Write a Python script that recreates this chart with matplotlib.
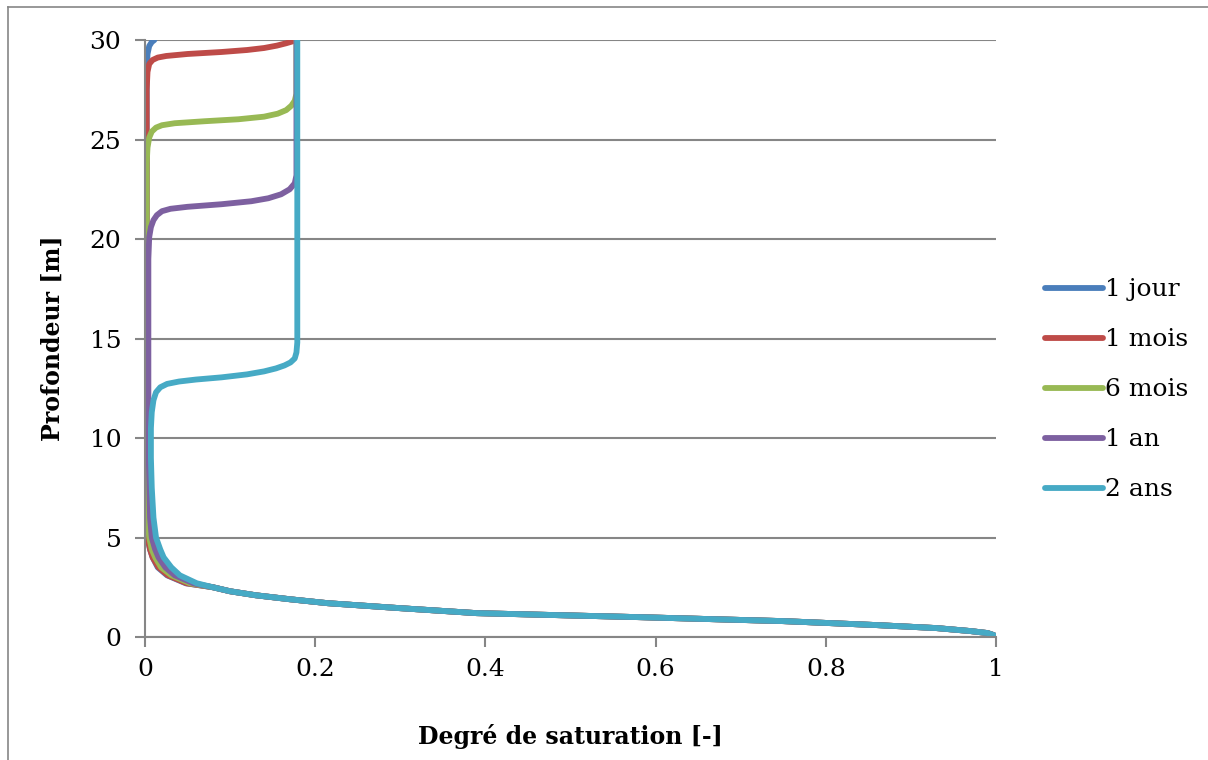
import matplotlib
matplotlib.use("Agg")
import matplotlib.pyplot as plt
from matplotlib.lines import Line2D
from matplotlib.ticker import FuncFormatter

# profils : (profondeur [m], degre de saturation [-])
depth_common = [0.0, 0.05, 0.1, 0.2, 0.3, 0.45, 0.6, 0.8, 1.0, 1.2, 1.45, 1.7, 1.9, 2.1, 2.3, 2.5]
sat_common = [1.0, 0.999, 0.997, 0.99, 0.97, 0.93, 0.86, 0.75, 0.58, 0.39, 0.30, 0.215, 0.17,
              0.13, 0.10, 0.08]

depth_jour = [2.7, 3.1, 3.5, 4.0, 4.4, 5, 6, 8, 20, 28, 29.3, 29.7, 29.9, 30]
sat_jour = [0.048, 0.026, 0.015, 0.009, 0.006, 0.003, 0.002, 0.002, 0.002, 0.002, 0.003,
            0.005, 0.008, 0.011]

depth_1mois = [2.7, 3.1, 3.5, 4.0, 4.4, 5, 6, 8, 20, 27.5, 28.4, 28.8, 29.0, 29.12, 29.2,
               29.3, 29.4, 29.5, 29.6, 29.72, 29.84, 29.94, 30]
sat_1mois = [0.049, 0.027, 0.016, 0.009, 0.006, 0.003, 0.002, 0.002, 0.002, 0.002, 0.003,
             0.005, 0.009, 0.015, 0.025, 0.05, 0.09, 0.12, 0.14, 0.155, 0.166, 0.174, 0.178]

depth_6mois = [2.7, 3.1, 3.5, 4.0, 4.4, 5, 6, 8, 20, 23.8, 24.6, 25.1, 25.4, 25.6, 25.72,
               25.82, 25.92, 26.02, 26.15, 26.3, 26.48, 26.7, 26.95, 27.3, 30]
sat_6mois = [0.053, 0.031, 0.019, 0.012, 0.008, 0.005, 0.003, 0.002, 0.002, 0.002, 0.003,
             0.005, 0.008, 0.013, 0.02, 0.035, 0.07, 0.11, 0.14, 0.156, 0.166, 0.172,
             0.176, 0.178, 0.178]

depth_1an = [2.7, 3.1, 3.5, 4.0, 4.4, 5, 6, 8, 10, 15, 19, 20.1, 20.6, 20.95, 21.2, 21.4,
             21.52, 21.62, 21.75, 21.9, 22.05, 22.25, 22.5, 22.8, 23.2, 30]
sat_1an = [0.057, 0.035, 0.024, 0.016, 0.012, 0.008, 0.006, 0.005, 0.004, 0.004, 0.004,
           0.005, 0.007, 0.01, 0.014, 0.02, 0.03, 0.05, 0.09, 0.125, 0.145, 0.16, 0.17,
           0.176, 0.178, 0.178]

depth_2ans = [2.7, 3.1, 3.5, 4.0, 4.4, 5, 6, 7.5, 9, 10.5, 11.3, 11.9, 12.3, 12.55, 12.72,
              12.84, 12.94, 13.05, 13.2, 13.35, 13.5, 13.65, 13.8, 14.0, 14.3, 14.8, 30]
sat_2ans = [0.061, 0.041, 0.031, 0.022, 0.018, 0.013, 0.010, 0.008, 0.007, 0.007, 0.008,
            0.01, 0.013, 0.018, 0.026, 0.04, 0.06, 0.09, 0.12, 0.14, 0.154, 0.164, 0.171,
            0.176, 0.178, 0.179, 0.179]

labels = ["1 jour", "1 mois", "6 mois", "1 an", "2 ans"]
colors = ["#4A7EBB", "#BE4B48", "#98B954", "#7D60A0", "#46AAC5"]
series = [(depth_jour, sat_jour), (depth_1mois, sat_1mois), (depth_6mois, sat_6mois),
          (depth_1an, sat_1an), (depth_2ans, sat_2ans)]

plt.rcParams['font.family'] = ['DejaVu Serif']
grey = "#868686"

fig = plt.figure(figsize=(12.08, 7.6), dpi=100)
ax = fig.add_axes([0.12, 0.1618, 0.7045, 0.7855])

for (d, s), lab, c in zip(series, labels, colors):
    ax.plot(sat_common + s, depth_common + d, color=c, lw=4.2, label=lab,
            solid_capstyle='round', solid_joinstyle='round')

ax.set_xlim(0, 1)
ax.set_ylim(0, 30)
ax.set_xticks([0, 0.2, 0.4, 0.6, 0.8, 1.0])
ax.set_yticks([0, 5, 10, 15, 20, 25, 30])
ax.xaxis.set_major_formatter(FuncFormatter(lambda v, p: "%g" % v))
ax.yaxis.grid(True, color=grey, lw=1.5)
ax.set_axisbelow(True)
for side in ["top", "right"]:
    ax.spines[side].set_visible(False)
for side in ["left", "bottom"]:
    ax.spines[side].set_color(grey)
    ax.spines[side].set_linewidth(1.5)
ax.tick_params(axis='both', colors=grey, labelcolor='black', labelsize=18,
               length=7, width=1.5, direction='out')
ax.tick_params(axis='x', pad=8)
ax.tick_params(axis='y', pad=10)

ax.set_xlabel("Degré de saturation [-]", fontsize=17, fontweight='bold', labelpad=31)
ax.set_ylabel("Profondeur [m]", fontsize=17, fontweight='bold', labelpad=18)

fig.legend(loc='center left', bbox_to_anchor=(0.857, 0.487), frameon=False,
           fontsize=18, handlelength=2.3, handletextpad=0.1, labelspacing=1.08,
           borderaxespad=0)

# cadre du graphique
fig.add_artist(Line2D([8 / 1208, 8 / 1208], [0, 1 - 7 / 760], color=grey, lw=1.2))
fig.add_artist(Line2D([8 / 1208, 1], [1 - 7 / 760, 1 - 7 / 760], color=grey, lw=1.2))

fig.savefig("out.png", dpi=100)
